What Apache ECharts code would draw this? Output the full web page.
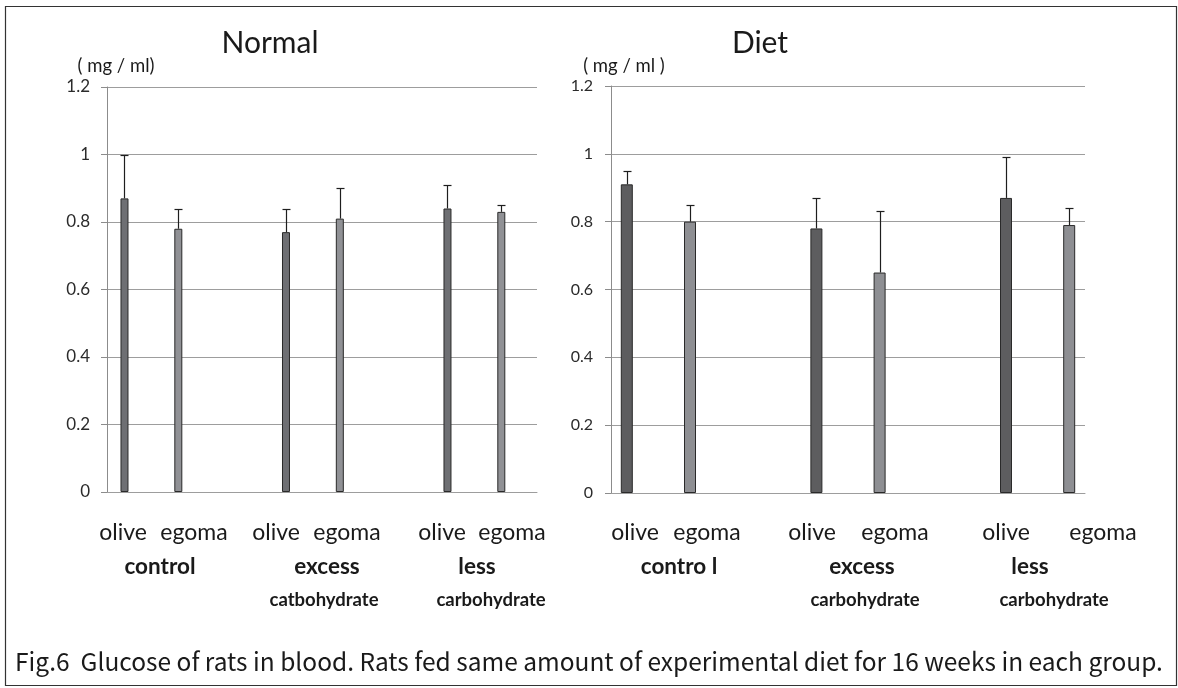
<!DOCTYPE html>
<html>
<head>
<meta charset="utf-8">
<script src="https://cdn.jsdelivr.net/npm/echarts@6/dist/echarts.min.js"></script>
<style>
    html, body { margin: 0; padding: 0; background: #fff; }
    #chart { width: 1178px; height: 688px; }
</style>
</head>
<body>
<div id="chart"></div>
<script>
// 数据
const fats = ['olive', 'egoma'];
const normalGroups = ['control', 'excess', 'less'];
const normalSub = ['', 'catbohydrate', 'carbohydrate'];
const dietGroups = ['contro l', 'excess', 'less'];
const dietSub = ['', 'carbohydrate', 'carbohydrate'];

const normalOlive = [0.87, 0.77, 0.84];
const normalOliveSd = [0.13, 0.07, 0.07];
const normalEgoma = [0.78, 0.81, 0.83];
const normalEgomaSd = [0.06, 0.09, 0.02];

const dietOlive = [0.91, 0.78, 0.87];
const dietOliveSd = [0.04, 0.09, 0.12];
const dietEgoma = [0.80, 0.65, 0.79];
const dietEgomaSd = [0.05, 0.18, 0.05];

const yMax = 1.2;
const yStep = 0.2;

const caption = 'Fig.6  Glucose of rats in blood. Rats fed same amount of experimental diet for 16 weeks in each group.';

// 布局
const FONT = 'Lato';
const normalFatX = [[123, 194], [276, 347], [442, 512]];
const normalGroupX = [160, 327, 477];
const normalSubX = [0, 324, 491];
const dietFatX = [[635, 707], [812, 895], [1006, 1103]];
const dietGroupX = [679, 862, 1030];
const dietSubX = [0, 865, 1054];

const chart = echarts.init(document.getElementById('chart'));

// 每组占3格: olive, egoma, 空
function slot(g, s) {
    return g * 3 + s;
}

function barSeries(axis, values, s, color, width) {
    return {
        type: 'bar',
        xAxisIndex: axis,
        yAxisIndex: axis,
        barWidth: width,
        barGap: '-100%',
        data: values.map((v, g) => [slot(g, s), v]),
        itemStyle: { color: color, borderColor: '#2a2a2a', borderWidth: 1 },
        silent: true
    };
}

function errSeries(axis, values, sd, s) {
    return {
        type: 'custom',
        xAxisIndex: axis,
        yAxisIndex: axis,
        data: values.map((v, g) => [slot(g, s), v, v + sd[g]]),
        renderItem: function(params, api) {
            const base = api.coord([api.value(0), api.value(1)]);
            const top = api.coord([api.value(0), api.value(2)]);
            const x = Math.round(top[0]) + 0.5;
            const y = Math.round(top[1]) + 0.5;
            return {
                type: 'group',
                children: [
                    { type: 'line', shape: { x1: x, y1: base[1], x2: x, y2: y },
                      style: { stroke: '#1e1e1e', lineWidth: 1.2 } },
                    { type: 'line', shape: { x1: x - 4, y1: y, x2: x + 4, y2: y },
                      style: { stroke: '#1e1e1e', lineWidth: 1.2 } }
                ]
            };
        },
        z: 3,
        silent: true
    };
}

function yAxisOf(grid, margin, size) {
    return {
        type: 'value',
        gridIndex: grid,
        min: 0,
        max: yMax,
        interval: yStep,
        axisLine: { show: true, onZero: false, lineStyle: { color: '#8c8c8c', width: 1 } },
        axisTick: { show: true, length: 6, lineStyle: { color: '#8c8c8c' } },
        axisLabel: { margin: margin, color: '#2b2b2b', fontFamily: FONT, fontSize: size },
        splitLine: { show: true, lineStyle: { color: '#9d9d9d', width: 1 } }
    };
}

function xAxisOf(grid, min, max) {
    return {
        type: 'value',
        gridIndex: grid,
        min: min,
        max: max,
        axisLine: { show: true, onZero: false, lineStyle: { color: '#9d9d9d', width: 1 } },
        axisTick: { show: false },
        axisLabel: { show: false },
        splitLine: { show: false }
    };
}

function text(x, y, str, size, weight) {
    return {
        type: 'text',
        x: x,
        y: y,
        style: {
            text: str,
            fontFamily: FONT,
            fontSize: size,
            fontWeight: weight || 'normal',
            fill: '#1a1a1a',
            align: 'center',
            verticalAlign: 'middle'
        }
    };
}

function labelTexts(fatX, groups, groupX, subs, subX) {
    const out = [];
    fatX.forEach(pair => {
        pair.forEach((x, s) => out.push(text(x, 533, fats[s], 23)));
    });
    groups.forEach((g, i) => out.push(text(groupX[i], 567, g, 22.5, 'bold')));
    subs.forEach((t, i) => {
        if (t) out.push(text(subX[i], 600, t, 18.5, 'bold'));
    });
    return out;
}

const graphics = [
    {
        type: 'rect',
        shape: { x: 5.5, y: 6.5, width: 1171, height: 679 },
        style: { fill: 'none', stroke: '#333', lineWidth: 1.2 }
    },
    text(270, 43, 'Normal', 30),
    text(760, 43, 'Diet', 30),
    text(116, 66, '( mg / ml)', 18.5),
    text(624, 66, '( mg / ml )', 18.5),
    {
        type: 'text',
        x: 589,
        y: 662,
        style: {
            text: caption,
            fontFamily: 'Noto Sans CJK JP',
            fontSize: 24.5,
            fill: '#1a1a1a',
            align: 'center',
            verticalAlign: 'middle'
        }
    }
].concat(labelTexts(normalFatX, normalGroups, normalGroupX, normalSub, normalSubX))
 .concat(labelTexts(dietFatX, dietGroups, dietGroupX, dietSub, dietSubX));

const option = {
    animation: false,
    grid: [
        { left: 107, right: 641, top: 87, bottom: 196 },
        { left: 611, right: 93, top: 86, bottom: 195 }
    ],
    xAxis: [
        xAxisOf(0, -0.325, 7.663),
        xAxisOf(1, -0.25, 7.25)
    ],
    yAxis: [
        yAxisOf(0, 17, 17),
        yAxisOf(1, 18, 16)
    ],
    series: [
        barSeries(0, normalOlive, 0, '#6e6f73', 8),
        barSeries(0, normalEgoma, 1, '#909195', 8),
        errSeries(0, normalOlive, normalOliveSd, 0),
        errSeries(0, normalEgoma, normalEgomaSd, 1),
        barSeries(1, dietOlive, 0, '#5d5d5f', 12),
        barSeries(1, dietEgoma, 1, '#8e8f93', 12),
        errSeries(1, dietOlive, dietOliveSd, 0),
        errSeries(1, dietEgoma, dietEgomaSd, 1)
    ],
    graphic: graphics
};

chart.setOption(option);

window.addEventListener('resize', function() {
    chart.resize();
});
</script>
</body>
</html>
